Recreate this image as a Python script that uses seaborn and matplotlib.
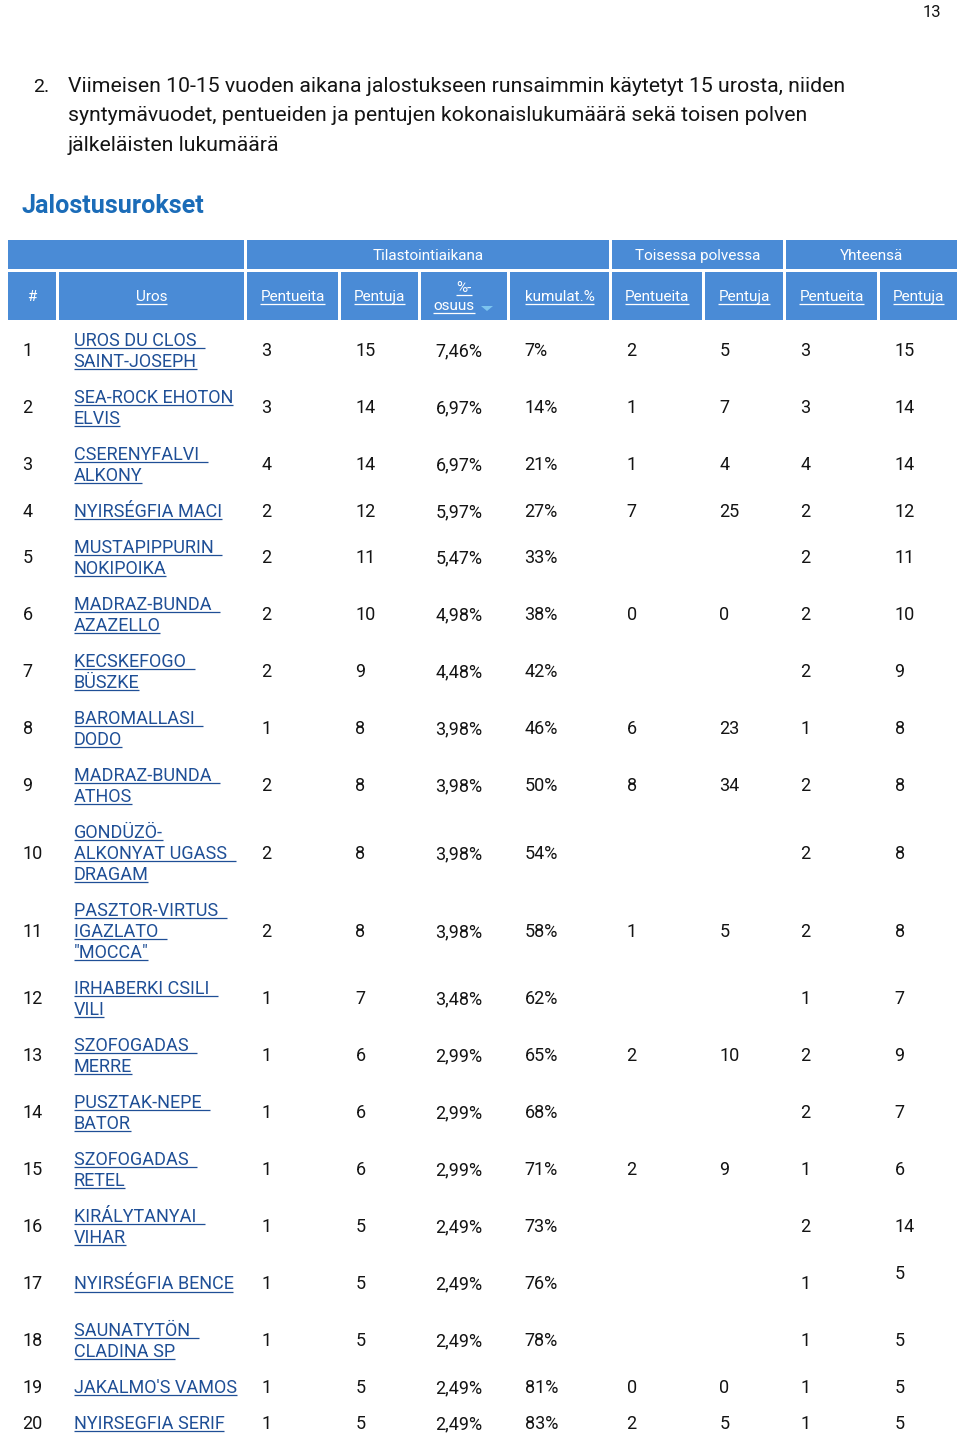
import matplotlib
matplotlib.use("Agg")
import matplotlib.pyplot as plt
from matplotlib.patches import Rectangle, Polygon
import seaborn as sns

# ---------------- data ----------------
page_number = "13"
section_number = "2."
intro_lines = [
    "Viimeisen 10-15 vuoden aikana jalostukseen runsaimmin käytetyt 15 urosta, niiden",
    "syntymävuodet, pentueiden ja pentujen kokonaislukumäärä sekä toisen polven",
    "jälkeläisten lukumäärä",
]
table_title = "Jalostusurokset"
group_headers = ["", "Tilastointiaikana", "Toisessa polvessa", "Yhteensä"]
column_headers = ["#", "Uros", "Pentueita", "Pentuja", "%-\nosuus", "kumulat.%",
                  "Pentueita", "Pentuja", "Pentueita", "Pentuja"]

rank = list(range(1, 21))
uros = [
    "UROS DU CLOS \nSAINT-JOSEPH", "SEA-ROCK EHOTON\nELVIS", "CSERENYFALVI \nALKONY",
    "NYIRSÉGFIA MACI", "MUSTAPIPPURIN \nNOKIPOIKA", "MADRAZ-BUNDA \nAZAZELLO",
    "KECSKEFOGO \nBÜSZKE", "BAROMALLASI \nDODO", "MADRAZ-BUNDA \nATHOS",
    "GONDÜZÖ-\nALKONYAT UGASS \nDRAGAM", "PASZTOR-VIRTUS \nIGAZLATO \n\"MOCCA\"",
    "IRHABERKI CSILI \nVILI", "SZOFOGADAS \nMERRE", "PUSZTAK-NEPE \nBATOR",
    "SZOFOGADAS \nRETEL", "KIRÁLYTANYAI \nVIHAR", "NYIRSÉGFIA BENCE",
    "SAUNATYTÖN \nCLADINA SP", "JAKALMO'S VAMOS", "NYIRSEGFIA SERIF",
]
pentueita = [3, 3, 4, 2, 2, 2, 2, 1, 2, 2, 2, 1, 1, 1, 1, 1, 1, 1, 1, 1]
pentuja = [15, 14, 14, 12, 11, 10, 9, 8, 8, 8, 8, 7, 6, 6, 6, 5, 5, 5, 5, 5]
osuus = ["7,46%", "6,97%", "6,97%", "5,97%", "5,47%", "4,98%", "4,48%", "3,98%", "3,98%",
         "3,98%", "3,98%", "3,48%", "2,99%", "2,99%", "2,99%", "2,49%", "2,49%", "2,49%",
         "2,49%", "2,49%"]
kumulat = ["7%", "14%", "21%", "27%", "33%", "38%", "42%", "46%", "50%", "54%", "58%",
           "62%", "65%", "68%", "71%", "73%", "76%", "78%", "81%", "83%"]
toisessa_pentueita = [2, 1, 1, 7, None, 0, None, 6, 8, None, 1, None, 2, None, 2,
                      None, None, None, 0, 2]
toisessa_pentuja = [5, 7, 4, 25, None, 0, None, 23, 34, None, 5, None, 10, None, 9,
                    None, None, None, 0, 5]
yhteensa_pentueita = [3, 3, 4, 2, 2, 2, 2, 1, 2, 2, 2, 1, 2, 2, 1, 2, 1, 1, 1, 1]
yhteensa_pentuja = ["15", "14", "14", "12", "11", "10", "9", "8", "8", "8", "8", "7", "9",
                    "7", "6", "14", "5\n", "5", "5", "5"]

# ---------------- style ----------------
sns.set_theme(style="white")
plt.rcParams["font.family"] = ["Roboto", "DejaVu Sans"]

HEADER_BLUE = "#4a8bd6"
TITLE_BLUE = "#1b6cb8"
LINK = "#1f4f96"
TEXT = "#141414"
TRI = "#7cc4ef"

W, H = 960, 1439
fig = plt.figure(figsize=(W / 100, H / 100), dpi=100)
ax = fig.add_axes([0, 0, 1, 1])
ax.set_xlim(0, W)
ax.set_ylim(H, 0)
ax.axis("off")

PX = 100 / 72.0
underlines = []


def put(x, yc, s, size, color, ha="left", ul=False, weight="normal"):
    cap = 0.711 * size * PX
    base = yc + cap / 2
    t = ax.text(x, base, s, fontsize=size, color=color, ha=ha, va="baseline",
                fontweight=weight)
    if ul and s.strip():
        underlines.append((t, base, color, s, size))
    return t


# page number and intro
put(932, 11, page_number, 12, TEXT, ha="center")
put(33, 85, section_number, 14, TEXT)
intro_texts = [put(68, 85 + i * 29.3, line, 14, TEXT) for i, line in enumerate(intro_lines)]
title_t = put(22, 205, table_title, 16, TITLE_BLUE, weight="bold")

# autofit intro width
fig.canvas.draw()
r = fig.canvas.get_renderer()
w0 = intro_texts[0].get_window_extent(renderer=r).width
scale = (850 - 68) / w0
for t in intro_texts:
    t.set_fontsize(14 * scale)
wt = title_t.get_window_extent(renderer=r).width
title_t.set_fontsize(16 * (205 - 22) / wt)

# ---------------- header ----------------
col_edges = [(8, 56), (59, 244), (247, 338), (341, 418), (421, 507), (510, 609),
             (612, 702), (705, 783), (786, 877), (880, 957)]
group_spans = [(0, 1), (2, 5), (6, 7), (8, 9)]
H1_TOP, H1_BOT = 240, 269
H2_TOP, H2_BOT = 272, 320
HS = 11

for (a, b), label in zip(group_spans, group_headers):
    x0, x1 = col_edges[a][0], col_edges[b][1]
    ax.add_patch(Rectangle((x0, H1_TOP), x1 - x0, H1_BOT - H1_TOP, color=HEADER_BLUE, lw=0))
    if label:
        put((x0 + x1) / 2, (H1_TOP + H1_BOT) / 2, label, HS, "white", ha="center")

for i, ((x0, x1), label) in enumerate(zip(col_edges, column_headers)):
    ax.add_patch(Rectangle((x0, H2_TOP), x1 - x0, H2_BOT - H2_TOP, color=HEADER_BLUE, lw=0))
    yc = (H2_TOP + H2_BOT) / 2
    if "\n" in label:
        l1, l2 = label.split("\n")
        put((x0 + x1) / 2, yc - 9, l1, HS, "white", ha="center", ul=True)
        put((x0 + x1) / 2 - 10, yc + 9, l2, HS, "white", ha="center", ul=True)
        tx = (x0 + x1) / 2 + 23
        ax.add_patch(Polygon([(tx - 6, yc + 10), (tx + 6, yc + 10), (tx, yc + 15)],
                             closed=True, color=TRI, lw=0))
    else:
        put((x0 + x1) / 2, yc, label, HS, "white", ha="center", ul=(label != "#"))

# ---------------- body ----------------
DS = 13
LINE = 21.0
PAD = 14.5


def fmt(v):
    return "" if v is None else str(v)


columns = [
    [str(v) for v in rank], uros, [fmt(v) for v in pentueita], [fmt(v) for v in pentuja],
    osuus, kumulat, [fmt(v) for v in toisessa_pentueita], [fmt(v) for v in toisessa_pentuja],
    [fmt(v) for v in yhteensa_pentueita], yhteensa_pentuja,
]

top = 321.5
for ri in range(len(rank)):
    cells = [col[ri] for col in columns]
    n = max(len(c.split("\n")) for c in cells)
    h = 36 + LINE * (n - 1)
    yc = top + h / 2
    for ci, cell in enumerate(cells):
        lines = cell.split("\n")
        m = len(lines)
        for li, s in enumerate(lines):
            y = yc + (li - (m - 1) / 2) * LINE
            if ci == 1:
                put(col_edges[ci][0] + PAD, y, s, DS, LINK, ul=True)
            else:
                put(col_edges[ci][0] + PAD, y, s, DS, TEXT)
    top += h

# ---------------- underlines ----------------
fig.canvas.draw()
r = fig.canvas.get_renderer()
inv = ax.transData.inverted()
for t, base, color, s, size in underlines:
    bb = t.get_window_extent(renderer=r)
    (x0, _), (x1, _) = inv.transform([[bb.x0, bb.y0], [bb.x1, bb.y1]])
    if s.endswith(" "):
        x1 += 0.26 * size * PX
    ax.plot([x0, x1], [base + 2.2, base + 2.2], color=color, lw=0.9, solid_capstyle="butt")

fig.savefig("out.png", dpi=100)
